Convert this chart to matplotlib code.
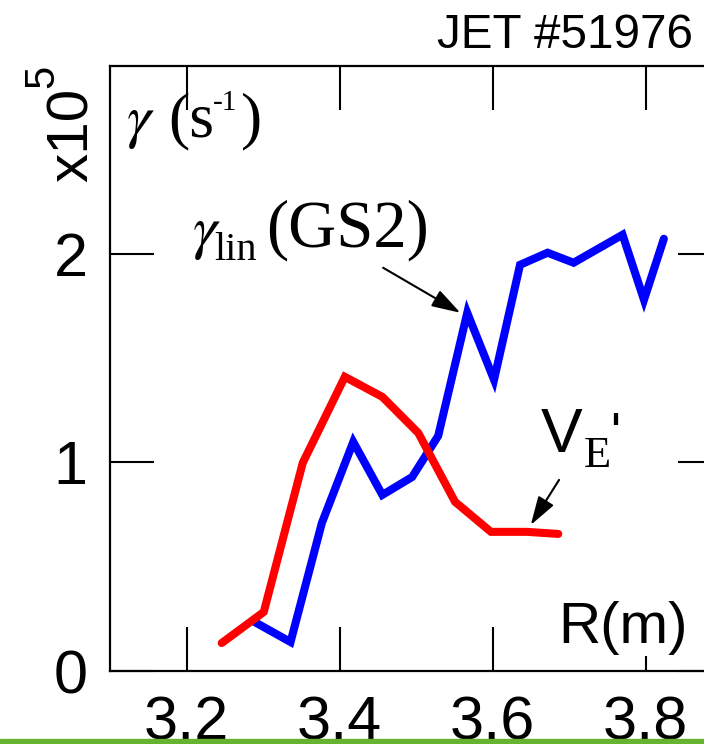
import matplotlib
matplotlib.use("Agg")
import matplotlib.pyplot as plt
from matplotlib.patches import Rectangle

W, H = 704, 744

# growth rates (units of 1e5 s^-1) vs major radius R (m)
r_lin = [3.289, 3.336, 3.377, 3.418, 3.456, 3.495, 3.529, 3.567, 3.602,
         3.636, 3.672, 3.706, 3.770, 3.798, 3.824]
gamma_lin = [0.235, 0.139, 0.710, 1.098, 0.844, 0.930, 1.127, 1.717, 1.396,
             1.947, 2.005, 1.957, 2.091, 1.779, 2.072]

r_ve = [3.246, 3.301, 3.352, 3.407, 3.456, 3.503, 3.551, 3.598, 3.645, 3.686]
shear_ve = [0.134, 0.283, 0.998, 1.410, 1.314, 1.141, 0.811, 0.667, 0.667, 0.657]

xticks = [3.2, 3.4, 3.6, 3.8]
yticks = [0, 1, 2]

SANS = "Liberation Sans"
SERIF = "Liberation Serif"
plt.rcParams["mathtext.fontset"] = "stix"


def fpos(x, y):
    # pixel position (from top-left) -> figure fraction
    return x / W, 1 - y / H


fig = plt.figure(figsize=(W / 100, H / 100), dpi=100)
ax = fig.add_axes([110 / W, (H - 671) / H, (722 - 110) / W, (671 - 66) / H])

ax.plot(r_lin, gamma_lin, color="#0000ff", lw=5.8, solid_capstyle="round",
        solid_joinstyle="miter", zorder=2)
ax.plot(r_ve, shear_ve, color="#ff0000", lw=5.8, solid_capstyle="round",
        solid_joinstyle="miter", zorder=2.1)

ax.set_xlim(3.1, 3.9)
ax.set_ylim(0, 2.9)
ax.set_xticks(xticks)
ax.set_xticklabels([f"{t:.1f}" for t in xticks])
ax.set_yticks(yticks)
ax.set_yticklabels([str(t) for t in yticks])
for s in ax.spines.values():
    s.set_linewidth(1.6)
ax.tick_params(direction="in", length=32, width=1.5, top=True, right=True,
               labelsize=44)
ax.tick_params(axis="x", pad=18)
ax.tick_params(axis="y", pad=16)
for lab in ax.get_xticklabels() + ax.get_yticklabels():
    lab.set_fontfamily(SANS)

# arrows to the curves
arrow = dict(arrowstyle="-|>,head_length=0.8,head_width=0.25", color="black",
             lw=1.5, mutation_scale=22, shrinkA=0, shrinkB=0)
ax.annotate("", xy=(3.558, 1.717), xytext=(3.457, 1.933), arrowprops=arrow)
ax.annotate("", xy=(3.650, 0.700), xytext=(3.687, 0.916), arrowprops=arrow)

# text labels
fig.text(*fpos(437, 48), "JET #51976", fontsize=34.3, family=SANS, va="baseline")
fig.text(*fpos(558, 643), "R(m)", fontsize=42, family=SANS, va="baseline",
         bbox=dict(fc="white", ec="none", pad=1))
fig.text(*fpos(88, 182), "x10", fontsize=42, family=SANS, rotation=90,
         rotation_mode="anchor", ha="left", va="baseline")
fig.text(*fpos(53, 88), "5", fontsize=30, family=SANS, rotation=90,
         rotation_mode="anchor", ha="left", va="baseline")

fig.text(*fpos(126, 136), r"$\gamma$", fontsize=44, va="baseline")
fig.text(*fpos(168, 136), "(s", fontsize=46, family=SERIF, va="baseline")
fig.text(*fpos(213, 110), "-1", fontsize=21, family=SERIF, va="baseline")
fig.text(*fpos(241, 136), ")", fontsize=46, family=SERIF, va="baseline")

fig.text(*fpos(192, 247), r"$\gamma$", fontsize=44, va="baseline")
fig.text(*fpos(214, 260), "lin", fontsize=29, family=SERIF, va="baseline")
fig.text(*fpos(266, 247), "(GS2)", fontsize=48, family=SERIF, va="baseline")

fig.text(*fpos(541, 452), "V", fontsize=45, family=SANS, va="baseline")
fig.text(*fpos(584, 467), "E", fontsize=32, family=SERIF, va="baseline")
fig.text(*fpos(610, 450), "'", fontsize=38, family=SANS, va="baseline")

# green rule along the bottom edge
fig.add_artist(Rectangle(fpos(0, 744), 1, 5 / H, transform=fig.transFigure,
                         color="#66b32e", zorder=5))

fig.savefig("out.png", dpi=100)
